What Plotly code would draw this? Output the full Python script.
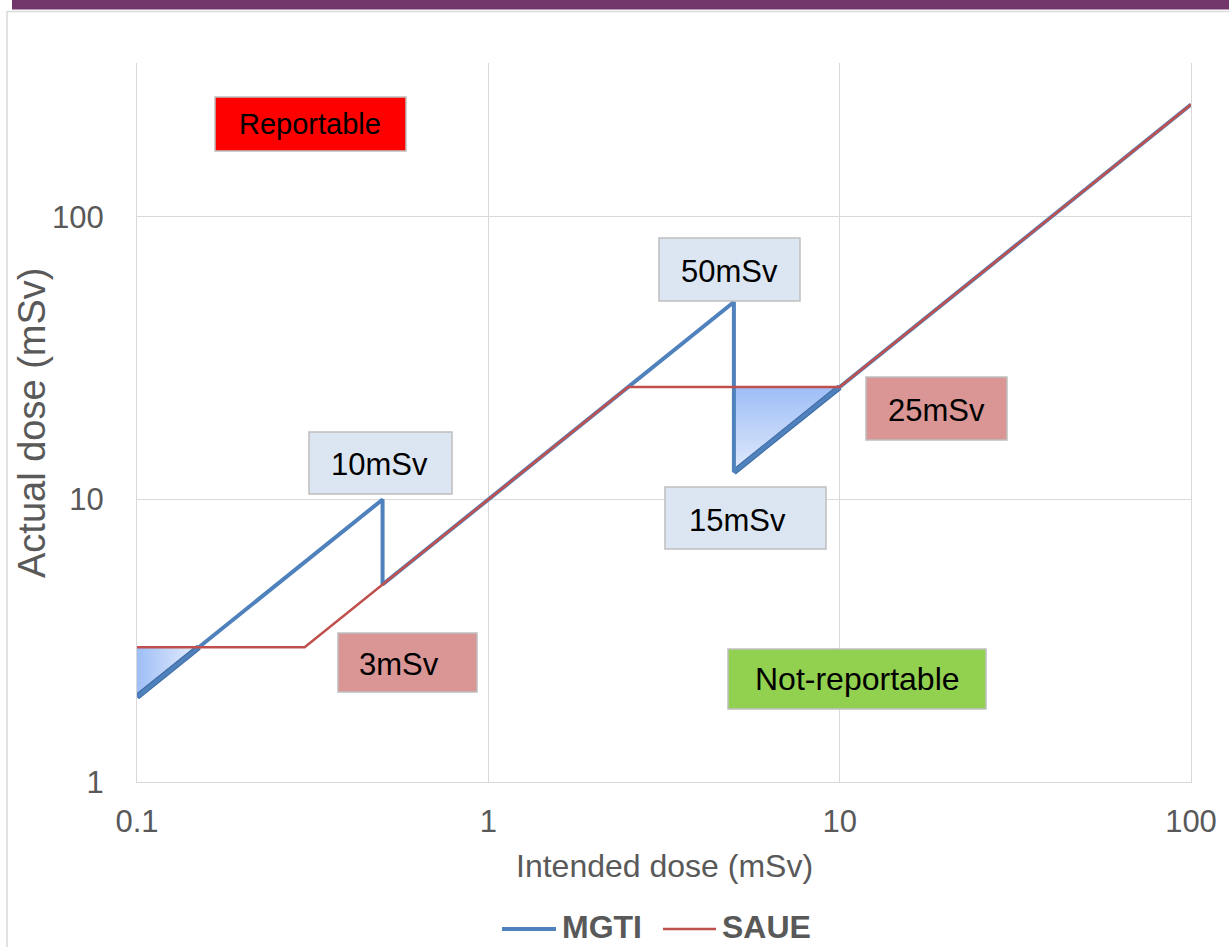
import plotly.graph_objects as go

# Reporting thresholds: actual dose against intended dose (mSv)
mgti_x = [0.1, 0.5, 0.5, 5, 5, 100]
mgti_y = [2, 10, 5, 50, 12.5, 250]
saue_x = [0.1, 0.3, 2.5, 10, 100]
saue_y = [3, 3, 25, 25, 250]

# Regions where the MGTI limit sits below the SAUE limit
gap_low_x = [0.1, 0.15, 0.1]
gap_low_y = [3, 3, 2]
gap_high_x = [5, 10, 5]
gap_high_y = [25, 25, 12.5]

x_ticks = [0.1, 1, 10, 100]
x_tick_text = ["0.1", "1", "10", "100"]
y_ticks = [1, 10, 100]
y_tick_text = ["1", "10", "100"]

W, H = 1229, 947
L, R, T, B = 137, 1191, 63, 782
PW, PH = R - L, B - T

FONT = "Liberation Sans, Arial, sans-serif"
GREY_TXT = "#595959"
GRID = "#D9D9D9"
BLUE = "#4F81BD"
SHADOW = "#3E6BA3"
RED = "#C0504D"


def px(x):
    return (x - L) / PW


def py(y):
    return (B - y) / PH


fig = go.Figure()

# Shaded gap regions, each with a darker edge along the sloped side
for gx, gy, kind, scale in [
    (gap_low_x, gap_low_y, "horizontal",
     [[0, "rgb(158,190,246)"], [1, "rgb(232,239,252)"]]),
    (gap_high_x, gap_high_y, "vertical",
     [[0, "rgb(224,233,252)"], [1, "rgb(158,190,246)"]]),
]:
    fig.add_trace(go.Scatter(
        x=gx, y=gy, mode="lines", fill="toself",
        fillgradient=dict(type=kind, colorscale=scale),
        line=dict(color=BLUE, width=1.5), showlegend=False, hoverinfo="skip"))
    fig.add_trace(go.Scatter(
        x=gx[1:], y=gy[1:], mode="lines",
        line=dict(color=SHADOW, width=6), showlegend=False, hoverinfo="skip"))

fig.add_trace(go.Scatter(x=mgti_x, y=mgti_y, mode="lines", name="MGTI",
                         line=dict(color=BLUE, width=4), showlegend=False))
fig.add_trace(go.Scatter(x=saue_x, y=saue_y, mode="lines", name="SAUE",
                         line=dict(color=RED, width=2.5), showlegend=False))

shapes = []
annotations = []

# Header strip and outer frame
shapes.append(dict(type="rect", xref="paper", yref="paper",
                   x0=px(12), x1=px(1240), y0=py(-5), y1=py(9.5),
                   fillcolor="#72366B", line=dict(width=0), layer="below"))
shapes.append(dict(type="rect", xref="paper", yref="paper",
                   x0=px(7), x1=px(1240), y0=py(11.5), y1=py(960),
                   fillcolor="rgba(0,0,0,0)", line=dict(color=GRID, width=1.5),
                   layer="below"))

# Labelled boxes: (text, box left, right, top, bottom, fill, text cx, text cy, size)
boxes = [
    ("Reportable", 215, 406, 97, 151, "#FF0000", 310, 124, 29),
    ("10mSv", 309, 452, 432, 494, "#DCE6F2", 379, 465, 31),
    ("50mSv", 659, 800, 238, 301, "#DCE6F2", 729, 271, 31),
    ("15mSv", 665, 826, 487, 549, "#DCE6F2", 737, 520, 31),
    ("25mSv", 866, 1007, 377, 440, "#D99694", 936, 410, 31),
    ("3mSv", 338, 477, 633, 692, "#D99694", 399, 664, 31),
    ("Not-reportable", 728, 986, 649, 709, "#92D050", 857, 679, 32),
]
for text, x0, x1, y0, y1, fill, cx, cy, size in boxes:
    shapes.append(dict(type="rect", xref="paper", yref="paper",
                       x0=px(x0), x1=px(x1), y0=py(y1), y1=py(y0),
                       fillcolor=fill, line=dict(color="#BFBFBF", width=1.5),
                       layer="above"))
    annotations.append(dict(text=text, xref="paper", yref="paper",
                            x=px(cx), y=py(cy), xanchor="center", yanchor="middle",
                            showarrow=False, font=dict(family=FONT, size=size, color="black")))

# Axis titles
annotations.append(dict(text="Intended dose (mSv)", xref="paper", yref="paper",
                        x=px(664), y=py(866), xanchor="center", yanchor="middle",
                        showarrow=False, font=dict(family=FONT, size=32, color=GREY_TXT)))
annotations.append(dict(text="Actual dose (mSv)", xref="paper", yref="paper",
                        x=px(32), y=py(423), xanchor="center", yanchor="middle",
                        textangle=-90, showarrow=False,
                        font=dict(family=FONT, size=38, color=GREY_TXT)))

# Legend
legend_items = [("MGTI", BLUE, 4, 502, 556, 560), ("SAUE", RED, 2.5, 663, 716, 720)]
for name, color, width, lx0, lx1, tx in legend_items:
    shapes.append(dict(type="line", xref="paper", yref="paper",
                       x0=px(lx0), x1=px(lx1), y0=py(929), y1=py(929),
                       line=dict(color=color, width=width)))
    annotations.append(dict(text="<b>%s</b>" % name, xref="paper", yref="paper",
                            x=px(tx), y=py(927), xanchor="left", yanchor="middle",
                            showarrow=False, font=dict(family=FONT, size=32, color=GREY_TXT)))

fig.update_layout(
    width=W, height=H,
    margin=dict(l=L, r=W - R, t=T, b=H - B, pad=0),
    paper_bgcolor="white", plot_bgcolor="white",
    shapes=shapes, annotations=annotations,
    showlegend=False,
    xaxis=dict(type="log", range=[-1, 2], tickvals=x_ticks, ticktext=x_tick_text,
               showgrid=True, gridcolor=GRID, gridwidth=1, zeroline=False,
               showline=True, linecolor=GRID, linewidth=1, ticks="",
               ticklabelstandoff=12,
               tickfont=dict(family=FONT, size=31, color=GREY_TXT)),
    yaxis=dict(type="log", range=[0, 2.545], tickvals=y_ticks, ticktext=y_tick_text,
               showgrid=True, gridcolor=GRID, gridwidth=1, zeroline=False,
               showline=True, mirror=True, linecolor=GRID, linewidth=1, ticks="",
               ticklabelstandoff=26,
               tickfont=dict(family=FONT, size=31, color=GREY_TXT)),
)

fig.write_html("out.html")
